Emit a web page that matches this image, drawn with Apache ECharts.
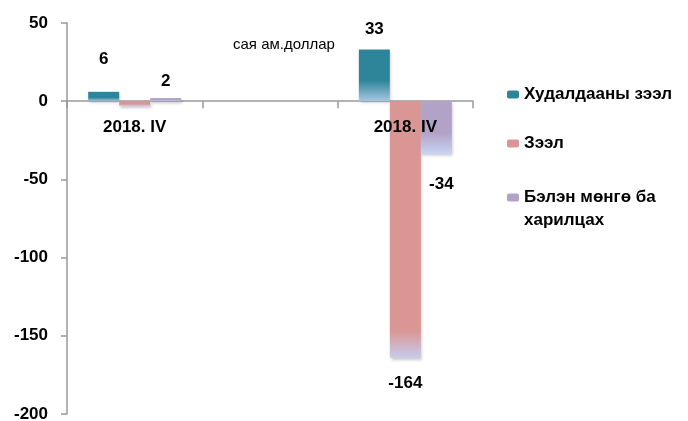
<!DOCTYPE html>
<html>
<head>
<meta charset="utf-8">
<script src="https://cdn.jsdelivr.net/npm/echarts@6/dist/echarts.min.js"></script>
<style>html,body{margin:0;padding:0;background:#fff}#c{width:688px;height:421px}</style>
</head>
<body>
<div id="c"></div>
<script>
var categories = ['2018. IV', '', '2018. IV'];
var seriesNames = ['Худалдааны зээл', 'Зээл', 'Бэлэн мөнгө ба харилцах'];
var tradeCredit = [6, null, 33];
var loans = [-3, null, -164];
var cashDeposits = [2, null, -34];
var yTicks = { min: -200, max: 50, interval: 50 };
var unitText = 'сая ам.доллар';

var FONT = '"Liberation Sans", Arial, sans-serif';
var FS = 17;
var GRID = { left: 67, right: 215, top: 23, bottom: 7 };
var plotH = 421 - GRID.top - GRID.bottom;
var pxPerUnit = plotH / (yTicks.max - yTicks.min);
var zeroOffset = -(yTicks.max * pxPerUnit);

var colors = [
  ['#2e8599', '#a9c6e4'],
  ['#d99694', '#c9cbec'],
  ['#b3a2c7', '#c9d5f2']
];
function grad(c, v) {
  var len = Math.abs(v) * pxPerUnit;
  var s = Math.max(0.6, Math.min(0.92, 1 - 27 / Math.max(len, 1)));
  return new echarts.graphic.LinearGradient(0, 0, 0, 1, [
    { offset: 0, color: c[0] },
    { offset: s, color: c[0] },
    { offset: 1, color: c[1] }
  ]);
}
var labelCfg = [
  [{ show: true, position: 'top', distance: 24 }, null, { show: true, position: 'top', distance: 12 }],
  [{ show: false }, null, { show: true, position: 'bottom', distance: 17 }],
  [{ show: true, position: 'top', distance: 8 }, null, { show: true, position: 'bottom', distance: 21, offset: [5, 0] }]
];
var values = [tradeCredit, loans, cashDeposits];
var series = values.map(function (arr, si) {
  return {
    name: seriesNames[si],
    type: 'bar',
    barWidth: 31,
    barGap: '0%',
    itemStyle: { color: colors[si][0], shadowColor: 'rgba(0,0,0,0.22)', shadowBlur: 3, shadowOffsetX: 1, shadowOffsetY: 2 },
    label: { fontFamily: FONT, fontWeight: 'bold', fontSize: FS, color: '#000' },
    data: arr.map(function (v, ci) {
      var item = { value: v };
      if (v != null) item.itemStyle = { color: grad(colors[si], v) };
      if (labelCfg[si][ci]) item.label = labelCfg[si][ci];
      return item;
    })
  };
});

var legendText = { fontFamily: FONT, fontWeight: 'bold', fontSize: FS, color: '#000', lineHeight: 23 };
var chart = echarts.init(document.getElementById('c'));
chart.setOption({
  animation: false,
  grid: { left: GRID.left, right: GRID.right, top: GRID.top, bottom: GRID.bottom, containLabel: false, outerBoundsMode: 'none' },
  xAxis: [{
    type: 'category',
    data: categories,
    axisLine: { onZero: true, lineStyle: { color: '#999', width: 1.5 } },
    axisTick: { show: true, length: 7, lineStyle: { color: '#999', width: 1.5 } },
    axisLabel: { show: false }
  }, {
    type: 'category',
    data: categories,
    position: 'top',
    offset: zeroOffset,
    z: 5,
    axisLine: { show: false },
    axisTick: { show: false },
    axisLabel: { inside: true, margin: 18, fontFamily: FONT, fontWeight: 'bold', fontSize: FS, color: '#000' }
  }],
  yAxis: {
    type: 'value',
    min: yTicks.min, max: yTicks.max, interval: yTicks.interval,
    axisLine: { show: true, lineStyle: { color: '#999', width: 1.5 } },
    axisTick: { show: true, length: 6, lineStyle: { color: '#999', width: 1.5 } },
    splitLine: { show: false },
    axisLabel: { margin: 19, fontFamily: FONT, fontWeight: 'bold', fontSize: FS, color: '#000' }
  },
  legend: [{
    orient: 'vertical',
    left: 502, top: 78,
    itemWidth: 12, itemHeight: 8,
    itemGap: 26,
    textStyle: legendText,
    data: [seriesNames[0], seriesNames[1]]
  }, {
    orient: 'vertical',
    left: 502, top: 158,
    itemWidth: 12, itemHeight: 8,
    textStyle: legendText,
    formatter: function () { return '\nБэлэн мөнгө ба\nхарилцах'; },
    data: [seriesNames[2]]
  }],
  graphic: [{
    type: 'text', left: 233, top: 37,
    style: { text: unitText, fontFamily: FONT, fontSize: 15, fill: '#000' }
  }],
  series: series
});
</script>
</body>
</html>
